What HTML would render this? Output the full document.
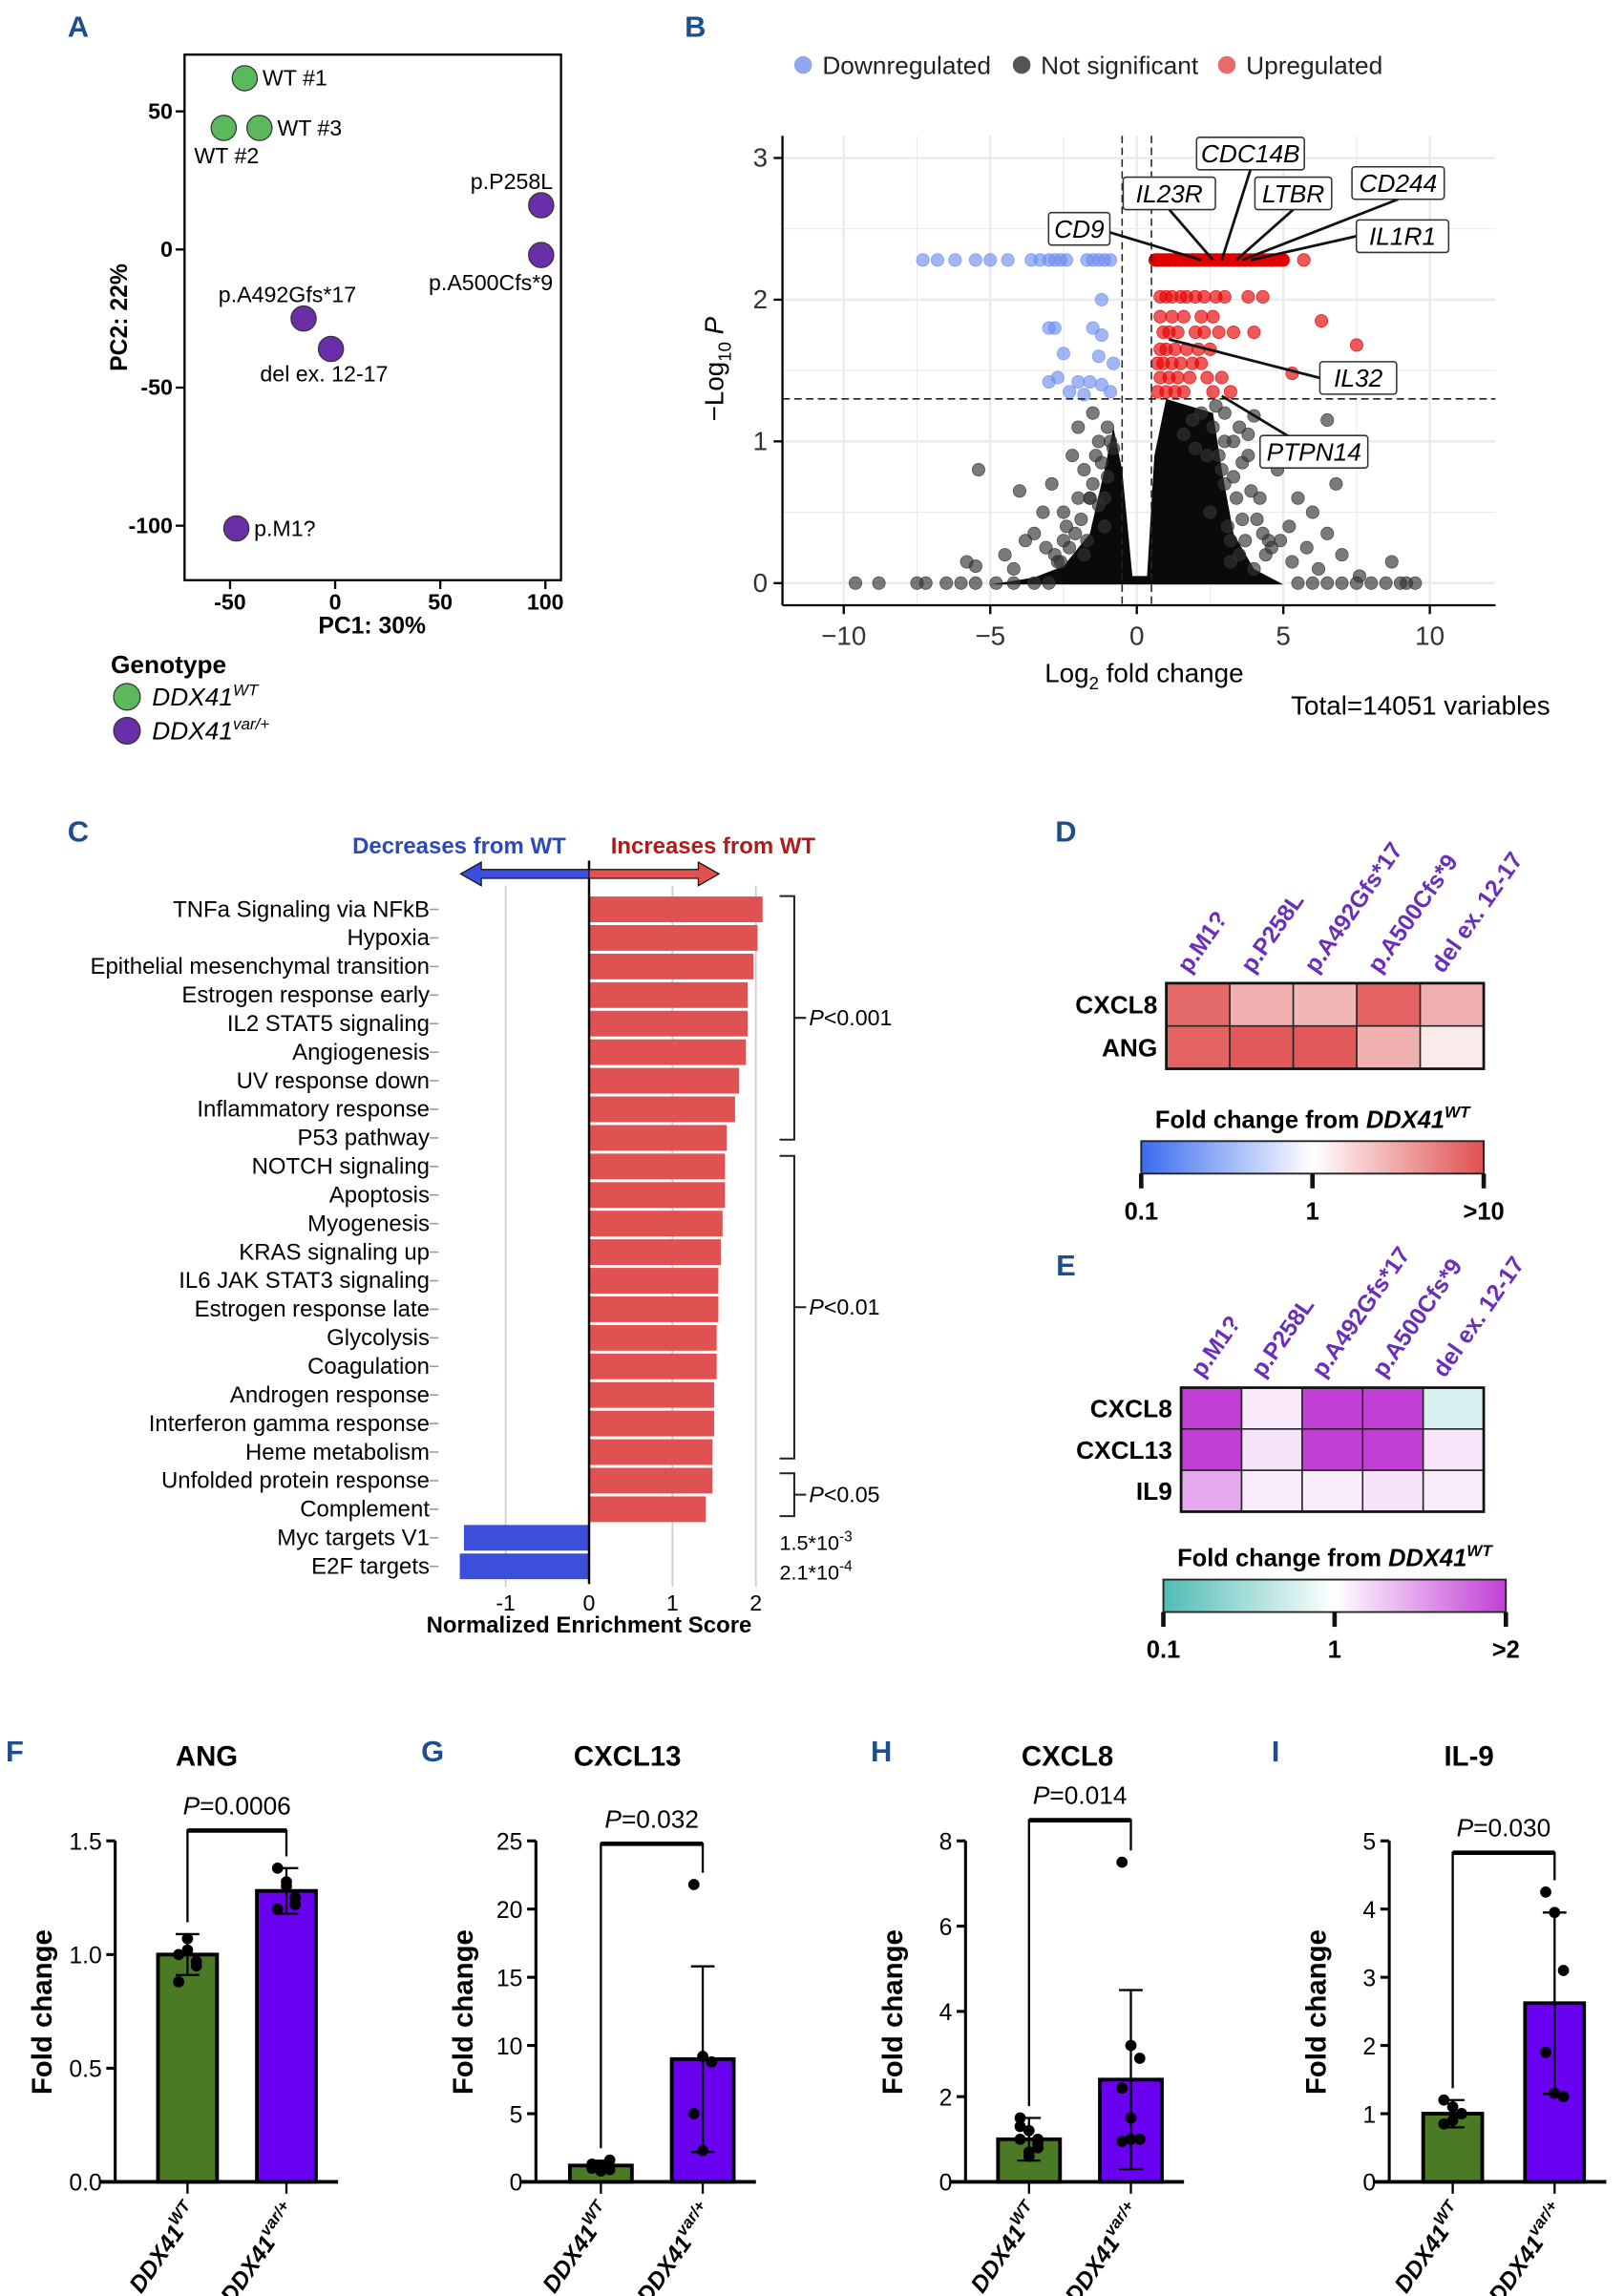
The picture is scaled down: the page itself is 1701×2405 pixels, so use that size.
<!DOCTYPE html>
<html><head><meta charset="utf-8">
<style>
html,body{margin:0;padding:0;background:#fff;}
svg{display:block;font-family:"Liberation Sans",Arial,sans-serif;}
</style></head>
<body>
<svg id="fig" width="1701" height="2405" viewBox="0 0 1100 1555.3" xmlns="http://www.w3.org/2000/svg">
<g id="root"></g>
</svg>
<script>
// ===== Panel A data =====
const pcaLabels=["WT #1","WT #2","WT #3","p.P258L","p.A500Cfs*9","p.A492Gfs*17","del ex. 12-17","p.M1?"];
const pcaX=[-43,-53,-36,98,98,-15,-2,-47];
const pcaY=[62,44,44,16,-2,-25,-36,-101];
const pcaGroup=["wt","wt","wt","var","var","var","var","var"];
// ===== Panel B data =====
const blueX=[-7.3,-6.8,-6.2,-5.5,-5.0,-4.4,-3.6,-3.3,-3.0,-2.8,-2.6,-2.4,-1.7,-1.5,-1.3,-1.1,-0.9,-1.2,-3.0,-2.8,-1.5,-1.2,-2.5,-1.3,-0.8,-3.0,-2.7,-2.0,-1.6,-1.2,-0.9,-1.8,-2.3];
const blueY=[2.28,2.28,2.28,2.28,2.28,2.28,2.28,2.28,2.28,2.28,2.28,2.28,2.28,2.28,2.28,2.28,2.28,2.0,1.8,1.8,1.8,1.75,1.62,1.6,1.55,1.42,1.45,1.42,1.42,1.4,1.35,1.33,1.35];
const redX=[0.7,0.9,1.1,1.3,1.5,1.7,1.9,2.1,2.3,2.5,2.7,2.9,3.1,3.3,3.5,3.7,3.9,4.1,4.3,4.6,5.0,5.7,0.8,1.0,1.2,1.5,1.7,2.0,2.3,2.7,3.0,3.8,4.3,0.8,1.2,1.6,2.2,2.6,0.9,1.1,1.4,2.0,2.3,2.8,3.3,4.0,0.8,1.0,1.3,1.7,2.1,2.5,0.7,0.9,1.2,1.5,1.9,2.2,0.8,1.1,1.4,1.8,2.4,2.9,0.7,1.0,1.3,1.6,2.6,3.2,7.5,5.3,6.3];
const redY=[2.28,2.28,2.28,2.28,2.28,2.28,2.28,2.28,2.28,2.28,2.28,2.28,2.28,2.28,2.28,2.28,2.28,2.28,2.28,2.28,2.28,2.28,2.02,2.02,2.02,2.02,2.02,2.02,2.02,2.02,2.02,2.02,2.02,1.88,1.88,1.88,1.88,1.88,1.77,1.77,1.77,1.77,1.77,1.77,1.77,1.77,1.65,1.65,1.65,1.65,1.65,1.65,1.55,1.55,1.55,1.55,1.55,1.55,1.45,1.45,1.45,1.45,1.45,1.45,1.35,1.35,1.35,1.35,1.35,1.35,1.68,1.48,1.85];
const greyX=[-9.6,-8.8,-7.5,-7.2,-6.5,-6.0,-5.5,-4.8,-4.2,-3.5,-3.0,5.5,6.0,6.5,7.0,7.5,8.0,8.5,9.0,9.2,9.5,-5.8,-5.5,-4.5,-4.2,-3.8,-3.2,-2.9,-2.5,-2.2,-2.0,-1.8,-1.5,-5.4,-4.0,-3.5,-2.8,-2.5,-1.3,-1.1,4.0,4.5,5.0,5.5,6.0,6.5,7.0,6.8,5.2,4.8,4.2,3.5,6.2,8.7,6.5,4.5,5.8,3.8,7.6,3.0,2.5,3.2,2.8,3.6,4.4,-2.4,-1.6,-2.6,-3.1,2.0,1.6,
 -1.4,-1.2,-1.0,-0.9,-1.6,-1.9,-2.1,-1.3,-1.7,-1.1,-2.3,-1.5,-0.8,-1.0,-2.0,-2.7,-1.8,3.0,3.3,3.6,2.9,3.4,3.9,4.1,3.1,3.7,2.7,3.5,4.3,4.6,3.2,2.6,3.8,4.0,2.4,3.0,3.3,4.9,5.3,2.2,1.9];
const greyY=[0,0,0,0,0,0,0,0,0,0,0,0,0,0,0,0,0,0,0,0,0,0.15,0.12,0.2,0.1,0.3,0.5,0.7,0.5,0.9,1.1,0.8,1.2,0.8,0.65,0.35,0.2,0.3,1.0,0.6,1.18,1.0,0.9,0.6,0.5,0.35,0.2,0.7,0.4,0.8,0.6,1.1,0.1,0.15,1.15,0.3,0.25,0.9,0.05,0.7,0.5,0.3,0.9,0.45,0.2,0.4,0.6,0.15,0.25,0.95,1.05,
 0.9,0.85,0.75,1.0,0.6,0.45,0.35,0.55,0.3,0.4,0.25,0.7,0.95,1.1,0.6,0.15,0.2,1.2,1.0,0.85,0.8,0.6,0.65,0.45,0.4,0.3,1.25,0.2,0.35,0.25,0.15,1.1,1.05,0.1,0.9,1.0,0.75,0.3,0.15,1.2,1.15];
const genes=["CDC14B","IL23R","LTBR","CD244","CD9","IL1R1","IL32","PTPN14"];
const geneX=[2.9,2.6,3.4,3.6,2.2,3.9,1.1,2.9];
const geneY=[2.28,2.28,2.28,2.28,2.28,2.28,1.72,1.32];
// ===== Panel C data =====
const pathways=["TNFa Signaling via NFkB","Hypoxia","Epithelial mesenchymal transition","Estrogen response early","IL2 STAT5 signaling","Angiogenesis","UV response down","Inflammatory response","P53 pathway","NOTCH signaling","Apoptosis","Myogenesis","KRAS signaling up","IL6 JAK STAT3 signaling","Estrogen response late","Glycolysis","Coagulation","Androgen response","Interferon gamma response","Heme metabolism","Unfolded protein response","Complement","Myc targets V1","E2F targets"];
const nes=[2.08,2.02,1.97,1.9,1.9,1.88,1.8,1.75,1.65,1.63,1.63,1.6,1.58,1.55,1.55,1.53,1.53,1.5,1.5,1.48,1.48,1.4,-1.5,-1.55];
const nesTicks=[-1,0,1,2];
// ===== Panel D/E data =====
const variants=["p.M1?","p.P258L","p.A492Gfs*17","p.A500Cfs*9","del ex. 12-17"];
const dGenes=["CXCL8","ANG"];
const dVals=[[0.85,0.45,0.42,0.9,0.45],[0.9,0.95,0.95,0.45,0.12]];
const eGenes=["CXCL8","CXCL13","IL9"];
const eVals=[[1,0.12,1,1,-0.22],[1,0.15,1,1,0.13],[0.45,0.1,0.1,0.15,0.1]];
// ===== Panels F-I data =====
const barTitles=["ANG","CXCL13","CXCL8","IL-9"];
const barPvals=["0.0006","0.032","0.014","0.030"];
const wtMeans=[1.0,1.2,1.0,1.0];
const varMeans=[1.28,9.0,2.4,2.62];
const wtSD=[0.09,0.35,0.5,0.2];
const varSD=[0.1,6.8,2.1,1.33];
const wtDots=[[1.0,1.07,0.95,0.88,1.02,0.97],[1.3,0.8,1.6,1.0,1.2,0.9],[1.5,1.2,0.8,1.0,0.6,0.9,1.3,0.7,1.0],[1.2,1.1,1.0,0.85,0.9,1.0]];
const varDots=[[1.38,1.32,1.25,1.2,1.3,1.22],[21.8,9.2,8.8,5.0,2.3],[7.5,3.2,2.9,2.2,1.5,1.0,0.95,1.0,1.0],[4.25,3.95,3.1,1.9,1.3,1.25]];
const yMaxs=[1.5,25,8,5];
const yTickLists=[["0.0","0.5","1.0","1.5"],["0","5","10","15","20","25"],["0","2","4","6","8"],["0","1","2","3","4","5"]];

const NS="http://www.w3.org/2000/svg";
const root=document.getElementById('root');
function el(tag,attrs,parent,text){const e=document.createElementNS(NS,tag);for(const k in attrs)e.setAttribute(k,attrs[k]);if(text!==undefined)e.textContent=text;(parent||root).appendChild(e);return e;}

const letters=[["A",53,25],["B",471,25],["C",53,570],["D",722,570],["E",722,864],["F",10,1193],["G",293,1193],["H",597,1193],["I",864,1193]];
letters.forEach(l=>{const t=el('text',{x:l[1],y:l[2],'font-size':20,'font-weight':'bold',fill:'#1f4e8c','text-anchor':'middle'},root,l[0]);

});

// ===== Panel A =====
(function(){
const g=el('g',{});
const sx=v=>227+v*1.424, sy=v=>169-v*1.871;
const fr=el('rect',{x:125,y:37,width:255,height:356,fill:'none',stroke:'#000','stroke-width':1.5},g);

[-50,0,50,100].forEach(v=>{el('line',{x1:sx(v),x2:sx(v),y1:393,y2:399,stroke:'#000','stroke-width':1.5},g);
const t=el('text',{x:sx(v),y:413,'font-size':15,'font-weight':'bold','text-anchor':'middle'},g,v);});
[50,0,-50,-100].forEach(v=>{el('line',{x1:119,x2:125,y1:sy(v),y2:sy(v),stroke:'#000','stroke-width':1.5},g);
const t=el('text',{x:117,y:sy(v)+5,'font-size':15,'font-weight':'bold','text-anchor':'end'},g,v);});
let t=el('text',{x:252,y:429,'font-size':16,'font-weight':'bold','text-anchor':'middle'},g,'PC1: 30%');
t=el('text',{x:0,y:0,'font-size':16,'font-weight':'bold','text-anchor':'middle',transform:'translate(86,215) rotate(-90)'},g,'PC2: 22%');
const off=[[12,5,'start'],[-20,24,'start'],[12,5,'start'],[8,-11,'end'],[8,24,'end'],[-11,-11,'middle'],[-48,22,'start'],[12,5,'start']];
pcaX.forEach((v,i)=>{const c=el('circle',{cx:sx(v),cy:sy(pcaY[i]),r:8.5,fill:pcaGroup[i]==='wt'?'#5cb85c':'#6a2fa8',stroke:'#333','stroke-width':0.8},g);

const o=off[i];const tx=el('text',{x:sx(v)+o[0],y:sy(pcaY[i])+o[1],'font-size':15,'text-anchor':o[2]},g,pcaLabels[i]);
});
const lg=el('g',{});
el('text',{x:75,y:456,'font-size':17,'font-weight':'bold'},lg,'Genotype');
[['#5cb85c','WT',472],['#6a2fa8','var/+',495]].forEach(d=>{const c=el('circle',{cx:86,cy:d[2],r:9,fill:d[0],stroke:'#333','stroke-width':0.8},lg);
const tt=el('text',{x:103,y:d[2]+6,'font-size':17,'font-style':'italic'},lg);
el('tspan',{},tt,'DDX41');el('tspan',{'font-size':11,dy:-7},tt,d[1]);});
})();

// ===== Panel B =====
(function(){
const g=el('g',{});
const sx=v=>770+v*19.85, sy=v=>395-v*96;
[-10,-7.5,-5,-2.5,0,2.5,5,7.5,10].forEach(v=>{const l=el('line',{x1:sx(v),x2:sx(v),y1:92,y2:410,stroke:'#ebebeb','stroke-width':v%5===0?1.6:0.8},g);});
[0,0.5,1,1.5,2,2.5,3].forEach(v=>{el('line',{x1:530,x2:1013,y1:sy(v),y2:sy(v),stroke:'#ebebeb','stroke-width':v%1===0?1.6:0.8},g);});
const core=el('path',{d:`M${sx(-0.15)},${sy(0.05)} L${sx(-0.5)},${sy(0.8)} L${sx(-0.8)},${sy(1.1)} L${sx(-1.1)},${sy(0.8)} L${sx(-1.6)},${sy(0.35)} L${sx(-2.5)},${sy(0.12)} L${sx(-3.5)},${sy(0.04)} L${sx(-5)},${sy(-0.01)} L${sx(5)},${sy(-0.01)} L${sx(4)},${sy(0.1)} L${sx(3.3)},${sy(0.35)} L${sx(2.9)},${sy(0.8)} L${sx(2.6)},${sy(1.2)} L${sx(1.0)},${sy(1.3)} L${sx(0.6)},${sy(0.9)} L${sx(0.35)},${sy(0.05)} Z`,fill:'#0a0a0a'},g);

const dot=(x,y,fill,name)=>{const c=el('circle',{cx:sx(x),cy:sy(y),r:4.3,fill:fill,'fill-opacity':0.65,stroke:fill,'stroke-opacity':0.8,'stroke-width':0.5},g);};
greyX.forEach((x,i)=>dot(x,greyY[i],'#333','point-not-significant'));
blueX.forEach((x,i)=>dot(x,blueY[i],'#6f8ff0','point-downregulated'));
redX.forEach((x,i)=>dot(x,redY[i],'#e60000','point-upregulated'));
const rb=el('rect',{x:sx(0.6)-4,y:sy(2.28)-4.5,width:sx(5.0)-sx(0.6)+8,height:9,rx:4.5,fill:'#e00000'},g);
[-0.5,0.5].forEach(v=>el('line',{x1:sx(v),x2:sx(v),y1:92,y2:410,stroke:'#222','stroke-width':1,'stroke-dasharray':'5,3'},g));
el('line',{x1:530,x2:1013,y1:sy(1.3),y2:sy(1.3),stroke:'#222','stroke-width':1,'stroke-dasharray':'5,3'},g);
el('line',{x1:530,x2:530,y1:92,y2:410,stroke:'#000','stroke-width':1.5},g);
el('line',{x1:530,x2:1013,y1:410,y2:410,stroke:'#000','stroke-width':1.5},g);
[-10,-5,0,5,10].forEach(v=>{el('line',{x1:sx(v),x2:sx(v),y1:410,y2:416,stroke:'#000','stroke-width':1.5},g);
const t=el('text',{x:sx(v),y:437,'font-size':18,fill:'#333','text-anchor':'middle'},g,v<0?'\u2212'+(-v):v);});
[0,1,2,3].forEach(v=>{el('line',{x1:524,x2:530,y1:sy(v),y2:sy(v),stroke:'#000','stroke-width':1.5},g);
const t=el('text',{x:520,y:sy(v)+6,'font-size':18,fill:'#333','text-anchor':'end'},g,v);});
let t=el('text',{x:775,y:462,'font-size':18,'text-anchor':'middle'},g);
el('tspan',{},t,'Log');el('tspan',{'font-size':12,dy:5},t,'2');el('tspan',{dy:-5},t,' fold change');
t=el('text',{x:0,y:0,'font-size':18,'text-anchor':'middle',transform:'translate(490,250) rotate(-90)'},g);
el('tspan',{},t,'\u2212Log');el('tspan',{'font-size':12,dy:5},t,'10');el('tspan',{dy:-5,'font-style':'italic'},t,' P');
t=el('text',{x:1050,y:484,'font-size':18,'text-anchor':'end'},g,'Total=14051 variables');
const lg=el('g',{});
[['#8fa8ee','Downregulated',544],['#555','Not significant',692],['#ea6a6a','Upregulated',831]].forEach(d=>{el('circle',{cx:d[2],cy:44,r:6,fill:d[0]},lg);
const tt=el('text',{x:d[2]+13,y:50,'font-size':17,fill:'#222'},lg,d[1]);});
const boxes=[[847,104],[792,131],[876,131],[947,124],[731,155],[950,160],[920,256],[890,306]];
genes.forEach((n,i)=>{const b=boxes[i];const w=n.length*10.5+10;
el('line',{x1:sx(geneX[i]),y1:sy(geneY[i]),x2:b[0]+(i===4?w/2-8:(i===6?-w/2:(i===5?-w/2:(i===7?-w/2+20:0)))),y2:b[1]+(i<4?11:(i===7?-10:0)),stroke:'#111','stroke-width':1.8},g);
const r=el('rect',{x:b[0]-w/2,y:b[1]-11,width:w,height:22,rx:2,fill:'#fff',stroke:'#333','stroke-width':1},g);
const tt=el('text',{x:b[0],y:b[1]+6,'font-size':17,'font-style':'italic','text-anchor':'middle'},g,n);});
})();

// ===== Panel C =====
(function(){
const g=el('g',{});
const sx=v=>399+v*56.5, rowY=i=>616+i*19.35;
nesTicks.forEach(v=>{if(v!==0){const l=el('line',{x1:sx(v),x2:sx(v),y1:600,y2:1075,stroke:'#cfcfcf','stroke-width':1.2},g);}});
pathways.forEach((p,i)=>{const v=nes[i];const y=rowY(i);
const r=el('rect',{x:Math.min(sx(0),sx(v)),y:y-8.7,width:Math.abs(sx(v)-sx(0)),height:17.4,fill:v>0?'#e05252':'#3b4fdb'},g);
const t=el('text',{x:291,y:y+5,'font-size':15.5,'text-anchor':'end'},g,p);
el('line',{x1:291,x2:297,y1:y,y2:y,stroke:'#999','stroke-width':1},g);});
el('line',{x1:sx(0),x2:sx(0),y1:583,y2:1073,stroke:'#000','stroke-width':1.6},g);
nesTicks.forEach(v=>{const t=el('text',{x:sx(v),y:1091,'font-size':15,'text-anchor':'middle'},g,v);});
let t=el('text',{x:399,y:1106,'font-size':15.5,'font-weight':'bold','text-anchor':'middle'},g,'Normalized Enrichment Score');
t=el('text',{x:311,y:578,'font-size':15.5,'font-weight':'bold',fill:'#2d49b8','text-anchor':'middle'},g,'Decreases from WT');
t=el('text',{x:483,y:578,'font-size':15.5,'font-weight':'bold',fill:'#b01a1a','text-anchor':'middle'},g,'Increases from WT');
let a=el('path',{d:'M399,589 L326,589 L326,584 L312,592 L326,600 L326,595 L399,595 Z',fill:'#3b4fdb',stroke:'#111','stroke-width':0.8},g);
a=el('path',{d:'M399,589 L473,589 L473,584 L487,592 L473,600 L473,595 L399,595 Z',fill:'#e05252',stroke:'#111','stroke-width':0.8},g);
[[607,772,'P<0.001'],[783,988,'P<0.01'],[998,1027,'P<0.05']].forEach(b=>{const m=(b[0]+b[1])/2;
const p=el('path',{d:`M528,${b[0]} L538,${b[0]} L538,${b[1]} L528,${b[1]} M538,${m} L546,${m}`,fill:'none',stroke:'#222','stroke-width':1.3},g);
const tt=el('text',{x:548,y:m+5,'font-size':15},g);
el('tspan',{'font-style':'italic'},tt,'P');el('tspan',{},tt,b[2].slice(1));});
[['1.5*10','-3',1050],['2.1*10','-4',1070]].forEach(d=>{const tt=el('text',{x:528,y:d[2],'font-size':14},g);
el('tspan',{},tt,d[0]);el('tspan',{'font-size':10,dy:-6},tt,d[1]);});
})();

// ===== Heatmaps =====
function heat(cfg){
const g=el('g',{});
cfg.vals.forEach((row,r)=>{row.forEach((v,c)=>{const rc=el('rect',{x:cfg.x0+c*cfg.cw,y:cfg.y0+r*cfg.ch,width:cfg.cw,height:cfg.ch,fill:cfg.color(v),stroke:'#222','stroke-width':1},g);
});
const t=el('text',{x:cfg.x0-6,y:cfg.y0+r*cfg.ch+cfg.ch/2+6,'font-size':17,'font-weight':'bold','text-anchor':'end'},g,cfg.genes[r]);});
el('rect',{x:cfg.x0,y:cfg.y0,width:cfg.cw*5,height:cfg.ch*cfg.vals.length,fill:'none',stroke:'#111','stroke-width':1.8},g);
variants.forEach((v,c)=>{const t=el('text',{x:0,y:0,'font-size':16,'font-weight':'bold',fill:'#6a2fb8',transform:`translate(${cfg.x0+c*cfg.cw+cfg.cw/2-6},${cfg.y0-6}) rotate(-55)`},g,v);});
const gid=cfg.name+'-grad';const defs=el('defs',{},g);const lgd=el('linearGradient',{id:gid},defs);
cfg.stops.forEach((s,i)=>el('stop',{offset:(i/(cfg.stops.length-1)*100)+'%','stop-color':s},lgd));
const cb=el('rect',{x:cfg.bx,y:cfg.by,width:cfg.bw,height:22,fill:`url(#${gid})`,stroke:'#222','stroke-width':1.2},g);
const tt=el('text',{x:cfg.bx+cfg.bw/2,y:cfg.by-9,'font-size':16.5,'font-weight':'bold','text-anchor':'middle'},g);
el('tspan',{},tt,'Fold change from ');el('tspan',{'font-style':'italic'},tt,'DDX41');el('tspan',{'font-size':11,dy:-7,'font-style':'italic'},tt,'WT');
cfg.ticks.forEach((tk,i)=>{const x=cfg.bx+i*cfg.bw/2;el('line',{x1:x,x2:x,y1:cfg.by+22,y2:cfg.by+32,stroke:'#111','stroke-width':3},g);
const l=el('text',{x:x,y:cfg.by+53,'font-size':16.5,'font-weight':'bold','text-anchor':'middle'},g,tk);});
}
function mix(a,b,t){const p=h=>[1,3,5].map(i=>parseInt(h.substr(i,2),16));const A=p(a),B=p(b);return 'rgb('+A.map((x,i)=>Math.round(x+(B[i]-x)*t)).join(',')+')';}
heat({name:'heatmap-d',vals:dVals,genes:dGenes,x0:790,y0:666,cw:43,ch:29,bx:773,by:773,bw:232,stops:['#3a6cf0','#ffffff','#e05050'],ticks:['0.1','1','>10'],
color:v=>v>=0?mix('#ffffff','#e05050',v):mix('#ffffff','#3a6cf0',-v)});
heat({name:'heatmap-e',vals:eVals,genes:eGenes,x0:800,y0:940,cw:41,ch:28,bx:788,by:1070,bw:232,stops:['#4fbdb5','#ffffff','#c23fd6'],ticks:['0.1','1','>2'],
color:v=>v>=0?mix('#ffffff','#c23fd6',v):mix('#ffffff','#4fbdb5',-v)});

// ===== Panels F-I =====
const barPanels=[{ax:78,b1:107,b2:174,bw:40,tx:140},{ax:363,b1:386,b2:455,bw:42,tx:425},{ax:654,b1:676,b2:745,bw:42,tx:723},{ax:941,b1:964,b2:1033,bw:40,tx:995}];
const bracketY=[1240,1249,1233,1255];
barPanels.forEach((P,k)=>{
const g=el('g',{});
const y0=1478,y1=1247,sy=v=>y0-v/yMaxs[k]*(y0-y1);
let t=el('text',{x:P.tx,y:1196,'font-size':19,'font-weight':'bold','text-anchor':'middle'},g,barTitles[k]);
el('line',{x1:P.ax,x2:P.ax,y1:y1,y2:y0,stroke:'#000','stroke-width':2},g);
el('line',{x1:P.ax-10,x2:P.b2+P.bw+15,y1:y0,y2:y0,stroke:'#000','stroke-width':2.5},g);
const nt=yTickLists[k].length;
yTickLists[k].forEach((lab,i)=>{const v=yMaxs[k]*i/(nt-1);el('line',{x1:P.ax-6,x2:P.ax,y1:sy(v),y2:sy(v),stroke:'#000','stroke-width':2},g);
const l=el('text',{x:P.ax-9,y:sy(v)+6,'font-size':16,'text-anchor':'end'},g,lab);});
t=el('text',{x:0,y:0,'font-size':19,'font-weight':'bold','text-anchor':'middle',transform:`translate(${P.ax-43},1363) rotate(-90)`},g,'Fold change');
[[P.b1,wtMeans[k],wtSD[k],wtDots[k],'#4a7a24','wt'],[P.b2,varMeans[k],varSD[k],varDots[k],'#6a00f0','var']].forEach(b=>{
const r=el('rect',{x:b[0],y:sy(b[1]),width:P.bw,height:y0-sy(b[1]),fill:b[4],stroke:'#000','stroke-width':2.5},g);
const cx=b[0]+P.bw/2;
el('line',{x1:cx,x2:cx,y1:sy(b[1]+b[2]),y2:sy(Math.max(0,b[1]-b[2])),stroke:'#000','stroke-width':1.5},g);
[b[1]+b[2],b[1]-b[2]].forEach(v=>{if(v>0)el('line',{x1:cx-8,x2:cx+8,y1:sy(v),y2:sy(v),stroke:'#000','stroke-width':1.5},g);});
b[3].forEach((v,i)=>{const d=el('circle',{cx:cx+((i%3)-1)*6,cy:sy(v),r:3.8,fill:'#000'},g);});
el('line',{x1:cx,x2:cx,y1:y0,y2:y0+8,stroke:'#000','stroke-width':1.5},g);
const lab=el('text',{x:0,y:0,'font-size':16,'font-weight':'bold','font-style':'italic','text-anchor':'end',transform:`translate(${cx+8},${y0+20}) rotate(-55)`},g);
el('tspan',{},lab,'DDX41');el('tspan',{'font-size':11,dy:-7},lab,b[5]==='wt'?'WT':'var/+');});
const c1=P.b1+P.bw/2,c2=P.b2+P.bw/2,by=bracketY[k];
const wtTop=sy(Math.max(wtMeans[k]+wtSD[k],Math.max(...wtDots[k])))-8, vTop=sy(Math.max(varMeans[k]+varSD[k],Math.max(...varDots[k])))-8;
const br=el('path',{d:`M${c1},${wtTop} L${c1},${by} L${c2},${by} L${c2},${Math.max(by+10,vTop)}`,fill:'none',stroke:'#000','stroke-width':1.5},g);
el('line',{x1:c1,x2:c2,y1:by,y2:by,stroke:'#000','stroke-width':3},g);
const pt=el('text',{x:(c1+c2)/2,y:by-11,'font-size':17,'text-anchor':'middle'},g);
el('tspan',{'font-style':'italic'},pt,'P');el('tspan',{},pt,'='+barPvals[k]);
});
</script>
</body></html>
